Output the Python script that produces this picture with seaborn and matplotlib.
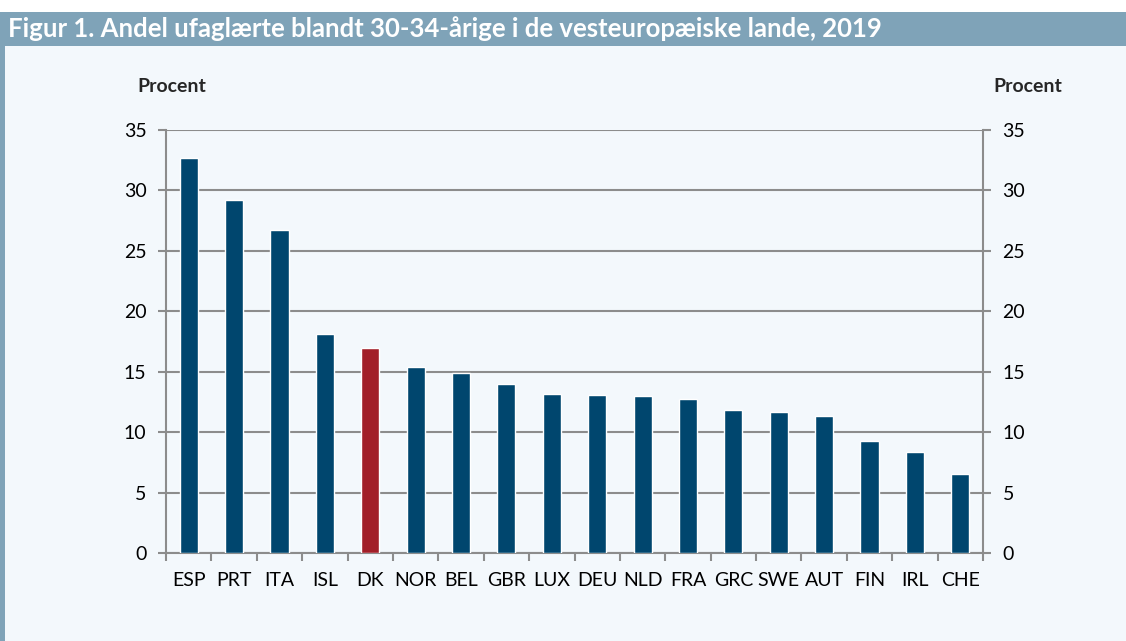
import matplotlib
matplotlib.use("Agg")
import matplotlib.pyplot as plt
import seaborn as sns
import pandas as pd
import numpy as np
from matplotlib.patches import Rectangle

# data
countries = ["ESP", "PRT", "ITA", "ISL", "DK", "NOR", "BEL", "GBR", "LUX",
             "DEU", "NLD", "FRA", "GRC", "SWE", "AUT", "FIN", "IRL", "CHE"]
shares = [32.7, 29.2, 26.7, 18.1, 17.0, 15.4, 14.9, 13.95, 13.15,
          13.05, 13.0, 12.75, 11.85, 11.65, 11.35, 9.25, 8.35, 6.55]
highlight = "DK"
y_ticks = [0, 5, 10, 15, 20, 25, 30, 35]

title = "Figur 1. Andel ufaglærte blandt 30-34-årige i de vesteuropæiske lande, 2019"
unit_label = "Procent"

navy = "#00466e"
red = "#a21f28"
bg = "#f3f8fc"
band = "#7fa3b8"
grid_grey = "#8c8c8c"

sns.set_theme(style="white")
plt.rcParams["font.family"] = ["Lato", "DejaVu Sans"]

df = pd.DataFrame({"country": countries, "share": shares})
df["group"] = np.where(df["country"] == highlight, "hl", "base")

W, H = 1126, 641
fig = plt.figure(figsize=(W / 100, H / 100), dpi=100)
fig.patch.set_facecolor("white")

# light panel, header band and left strip (behind the axes)
fig.patches.append(Rectangle((0, 0), 1, (H - 46) / H, transform=fig.transFigure,
                             facecolor=bg, edgecolor="none", zorder=-10))
fig.patches.append(Rectangle((0, (H - 46) / H), 1, 34 / H, transform=fig.transFigure,
                             facecolor=band, edgecolor="none", zorder=-10))
fig.patches.append(Rectangle((0, 0), 5 / W, (H - 46) / H, transform=fig.transFigure,
                             facecolor=band, edgecolor="none", zorder=-9))
fig.text(8 / W, (H - 29) / H, title, color="white", fontsize=18.5,
         fontweight="bold", va="center", ha="left")

ax = fig.add_axes([166 / W, 88 / H, (983 - 166) / W, (553 - 130) / H])
ax.set_facecolor(bg)

sns.barplot(data=df, x="country", y="share", hue="group",
            palette={"base": navy, "hl": red}, width=0.4,
            legend=False, ax=ax, zorder=3, saturation=1)

ax.set_ylim(0, 35)
ax.set_xlim(-0.5, len(countries) - 0.5)
ax.set_yticks(y_ticks)
ax.set_xlabel("")
ax.set_ylabel("")
ax.yaxis.grid(True, color=grid_grey, linewidth=1.5, zorder=0)
ax.set_axisbelow(True)

for side in ["left", "right", "bottom"]:
    ax.spines[side].set_visible(True)
    ax.spines[side].set_color(grid_grey)
    ax.spines[side].set_linewidth(1.5)
ax.spines["top"].set_visible(False)

ax.tick_params(axis="y", which="major", length=6, width=1.5, color=grid_grey,
               labelsize=14, pad=8, labelcolor="black", left=True)
ax.set_xticks(range(len(countries)))
ax.set_xticklabels(countries)
ax.set_xticks(np.arange(-0.5, len(countries), 1), minor=True)
ax.tick_params(axis="x", which="major", length=0, labelsize=14, pad=14,
               labelcolor="black")
ax.tick_params(axis="x", which="minor", length=6, width=1.5, color=grid_grey,
               bottom=True)

ax2 = ax.twinx()
ax2.set_ylim(ax.get_ylim())
ax2.set_yticks(y_ticks)
ax2.tick_params(axis="y", length=6, width=1.5, color=grid_grey, labelsize=14,
                pad=8, right=True, labelcolor="black")
for s in ax2.spines.values():
    s.set_visible(False)
ax2.grid(False)

fig.text(172 / W, (H - 86) / H, unit_label, fontsize=14, fontweight="bold",
         ha="center", va="center")
fig.text(1028 / W, (H - 86) / H, unit_label, fontsize=14, fontweight="bold",
         ha="center", va="center")

fig.savefig("out.png", dpi=100, facecolor=fig.get_facecolor())
